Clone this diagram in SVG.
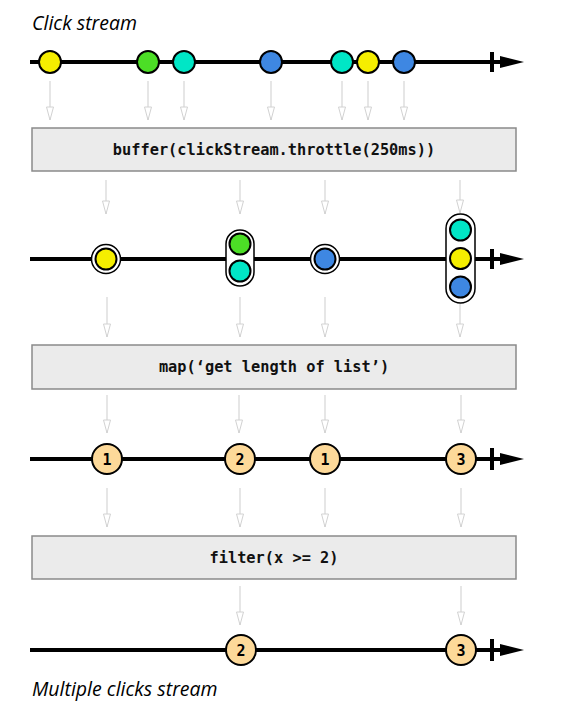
<svg xmlns="http://www.w3.org/2000/svg" width="588" height="723" viewBox="0 0 588 723">
<defs>
<marker id="ah" markerWidth="16" markerHeight="10" refX="14" refY="5" orient="auto" markerUnits="userSpaceOnUse" viewBox="0 0 16 10">
<path d="M1,1.5 L14,5 L1,8.5 Z" fill="#fff" stroke="#d2d2d2" stroke-width="1"/>
</marker>
<marker id="tl" markerWidth="26" markerHeight="14" refX="0" refY="7" orient="auto" markerUnits="userSpaceOnUse" viewBox="0 0 26 14">
<path d="M0,1 L24,7 L0,13 Z" fill="#000"/>
</marker>
</defs>
<style>
.tl{stroke:#000;stroke-width:4;fill:none}
.tick{stroke:#000;stroke-width:4}
.conn{stroke:#d6d6d6;stroke-width:1.2;fill:none;marker-end:url(#ah)}
.box{fill:#ebebeb;stroke:#8a8a8a;stroke-width:1.5}
.op{font-family:"DejaVu Sans Mono","Liberation Mono",monospace;font-weight:bold;font-size:15.3px;fill:#111;text-anchor:middle}
.ttl{font-family:"Open Sans","Noto Sans",sans-serif;font-style:italic;font-size:19.5px;fill:#000}
.m{stroke:#000;stroke-width:2}
.y{fill:#f5ee00}.g{fill:#4cde26}.c{fill:#00e6c6}.b{fill:#3e87e2}.o{fill:#fdd999}
.wrap{fill:#fff;stroke:#000;stroke-width:1.5}
.num{font-family:"DejaVu Sans Mono","Liberation Mono",monospace;font-weight:bold;font-size:15px;fill:#000;text-anchor:middle}
</style>

<g id="title-top"><text class="ttl" x="32" y="30">Click stream</text></g>

<g id="timeline-1">
<line class="tl" x1="30" y1="62" x2="500" y2="62" marker-end="url(#tl)"/>
<line class="tick" x1="492" y1="52" x2="492" y2="72"/>
</g>
<g id="click-events">
<circle class="m y" cx="50" cy="62" r="11"/>
<circle class="m g" cx="148" cy="62" r="11"/>
<circle class="m c" cx="184" cy="62" r="11"/>
<circle class="m b" cx="271" cy="62" r="11"/>
<circle class="m c" cx="342" cy="62" r="11"/>
<circle class="m y" cx="368" cy="62" r="11"/>
<circle class="m b" cx="404" cy="62" r="11"/>
</g>

<g id="op-buffer">
<rect class="box" x="32" y="128" width="484" height="43"/>
<text class="op" x="274" y="155">buffer(clickStream.throttle(250ms))</text>
</g>

<g id="timeline-2">
<line class="tl" x1="30" y1="259" x2="500" y2="259" marker-end="url(#tl)"/>
<line class="tick" x1="492" y1="249" x2="492" y2="269"/>
</g>
<g id="buffered-events">
<circle class="wrap" cx="106" cy="259" r="14.5"/>
<circle class="m y" cx="106" cy="259" r="10.5"/>
<rect class="wrap" x="226" y="230" width="28" height="56" rx="14"/>
<circle class="m g" cx="240" cy="244" r="10.5"/>
<circle class="m c" cx="240" cy="271" r="10.5"/>
<circle class="wrap" cx="325" cy="259" r="14.5"/>
<circle class="m b" cx="325" cy="259" r="10.5"/>
<rect class="wrap" x="446" y="214" width="29" height="89" rx="14.5"/>
<circle class="m c" cx="460.5" cy="230" r="10.5"/>
<circle class="m y" cx="460.5" cy="258.5" r="10.5"/>
<circle class="m b" cx="460.5" cy="287" r="10.5"/>
</g>

<g id="op-map">
<rect class="box" x="32" y="345" width="484" height="44"/>
<text class="op" x="274" y="372">map(‘get length of list’)</text>
</g>

<g id="timeline-3">
<line class="tl" x1="30" y1="459" x2="500" y2="459" marker-end="url(#tl)"/>
<line class="tick" x1="492" y1="448" x2="492" y2="470"/>
</g>
<g id="length-events">
<circle class="m o" cx="107" cy="459" r="15"/><text class="num" x="107" y="464.5">1</text>
<circle class="m o" cx="240" cy="459" r="15"/><text class="num" x="240" y="464.5">2</text>
<circle class="m o" cx="325" cy="459" r="15"/><text class="num" x="325" y="464.5">1</text>
<circle class="m o" cx="461" cy="459" r="15"/><text class="num" x="461" y="464.5">3</text>
</g>

<g id="op-filter">
<rect class="box" x="32" y="536" width="484" height="43"/>
<text class="op" x="274" y="563">filter(x &gt;= 2)</text>
</g>

<g id="timeline-4">
<line class="tl" x1="30" y1="650" x2="500" y2="650" marker-end="url(#tl)"/>
<line class="tick" x1="492" y1="639" x2="492" y2="661"/>
</g>
<g id="result-events">
<circle class="m o" cx="241" cy="650" r="15"/><text class="num" x="241" y="655.5">2</text>
<circle class="m o" cx="461" cy="650" r="15"/><text class="num" x="461" y="655.5">3</text>
</g>

<g id="title-bottom"><text class="ttl" x="32" y="696">Multiple clicks stream</text></g>

<g id="connectors">
<line class="conn" x1="50" y1="81" x2="50" y2="120"/>
<line class="conn" x1="148" y1="81" x2="148" y2="120"/>
<line class="conn" x1="184" y1="81" x2="184" y2="120"/>
<line class="conn" x1="271" y1="81" x2="271" y2="120"/>
<line class="conn" x1="342" y1="81" x2="342" y2="120"/>
<line class="conn" x1="368" y1="81" x2="368" y2="120"/>
<line class="conn" x1="404" y1="81" x2="404" y2="120"/>

<line class="conn" x1="106" y1="180" x2="106" y2="214"/>
<line class="conn" x1="240" y1="180" x2="240" y2="214"/>
<line class="conn" x1="325" y1="180" x2="325" y2="214"/>
<line class="conn" x1="460" y1="180" x2="460" y2="213"/>

<line class="conn" x1="107" y1="297" x2="107" y2="337"/>
<line class="conn" x1="240" y1="297" x2="240" y2="337"/>
<line class="conn" x1="325" y1="297" x2="325" y2="337"/>
<line class="conn" x1="460" y1="304" x2="460" y2="337"/>

<line class="conn" x1="107" y1="395" x2="107" y2="433"/>
<line class="conn" x1="239" y1="395" x2="239" y2="433"/>
<line class="conn" x1="325" y1="395" x2="325" y2="433"/>
<line class="conn" x1="461" y1="395" x2="461" y2="433"/>

<line class="conn" x1="107" y1="488" x2="107" y2="527"/>
<line class="conn" x1="240" y1="488" x2="240" y2="527"/>
<line class="conn" x1="325" y1="488" x2="325" y2="527"/>
<line class="conn" x1="461" y1="488" x2="461" y2="527"/>

<line class="conn" x1="240" y1="586" x2="240" y2="625"/>
<line class="conn" x1="461" y1="586" x2="461" y2="625"/>
</g>
</svg>
